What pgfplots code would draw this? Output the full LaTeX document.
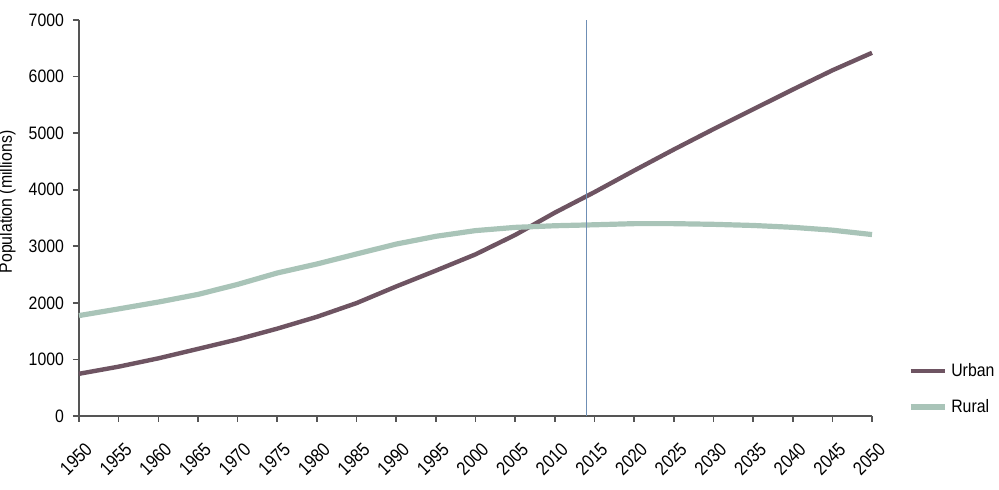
\documentclass[border=0pt]{standalone}
\usepackage{fontspec}
\setmainfont{Liberation Sans}[FakeStretch=0.88]
\newfontfamily\narrowfont{Liberation Sans}[FakeStretch=0.85]
\usepackage{pgfplots}
\pgfplotsset{compat=1.18}
\definecolor{urban}{HTML}{6E5462}
\definecolor{rural}{HTML}{A9C4B8}
\definecolor{vline}{HTML}{6F8FB5}
\definecolor{axgray}{HTML}{555555}
\begin{document}
\begin{tikzpicture}
\begin{axis}[
  at={(0,0)}, anchor=south west,
  scale only axis, width=396.5pt, height=198pt,
  xmin=1950, xmax=2050, ymin=0, ymax=7000,
  axis x line*=bottom, axis y line*=left,
  axis line style={axgray, line width=0.8pt},
  every tick/.style={axgray, line width=0.8pt},
  tick align=outside, major tick length=3pt,
  xtick={1950,1955,...,2050}, ytick={0,1000,...,7000},
  /pgf/number format/1000 sep={},
  /pgf/number format/assume math mode=true,
  yticklabel style={font=\fontsize{9}{10}\selectfont, xshift=-1pt},
  xticklabel style={font=\narrowfont\fontsize{9.5}{10}\selectfont, xshift=5pt, yshift=-12pt,
    rotate=45, anchor=east, inner sep=0pt},
  legend style={at={(1.045,0.145)}, anchor=north west, draw=none, fill=none,
    inner sep=0pt, font=\fontsize{9}{10}\selectfont, row sep=6pt,
    legend cell align=left},
  legend image code/.code={\draw[#1] (0,0) -- (17pt,0);},
  clip=false,
]
\addplot[urban, line width=2.2pt] coordinates {
(1950,746)(1955,872)(1960,1019)(1965,1186)(1970,1354)(1975,1544)(1980,1753)
(1985,1996)(1990,2290)(1995,2570)(2000,2857)(2005,3200)(2010,3594)(2015,3957)
(2020,4338)(2025,4710)(2030,5070)(2035,5420)(2040,5770)(2045,6110)(2050,6420)};
\addlegendentry{Urban}
\addplot[rural, line width=2.6pt] coordinates {
(1950,1775)(1955,1893)(1960,2014)(1965,2149)(1970,2326)(1975,2528)(1980,2687)
(1985,2864)(1990,3039)(1995,3176)(2000,3277)(2005,3334)(2010,3363)(2015,3380)
(2020,3400)(2025,3400)(2030,3388)(2035,3368)(2040,3335)(2045,3285)(2050,3207)};
\addlegendentry{Rural}
\addplot[vline, line width=0.6pt, forget plot] coordinates {(2014,0)(2014,7000)};
\end{axis}
\node[rotate=90, anchor=base, font=\fontsize{9}{10}\selectfont] at (-33.5pt,107pt) {Population (millions)};
\pgfresetboundingbox
\path[use as bounding box] (-39.5pt,-37pt) rectangle (460pt,208pt);
\end{tikzpicture}
\end{document}
